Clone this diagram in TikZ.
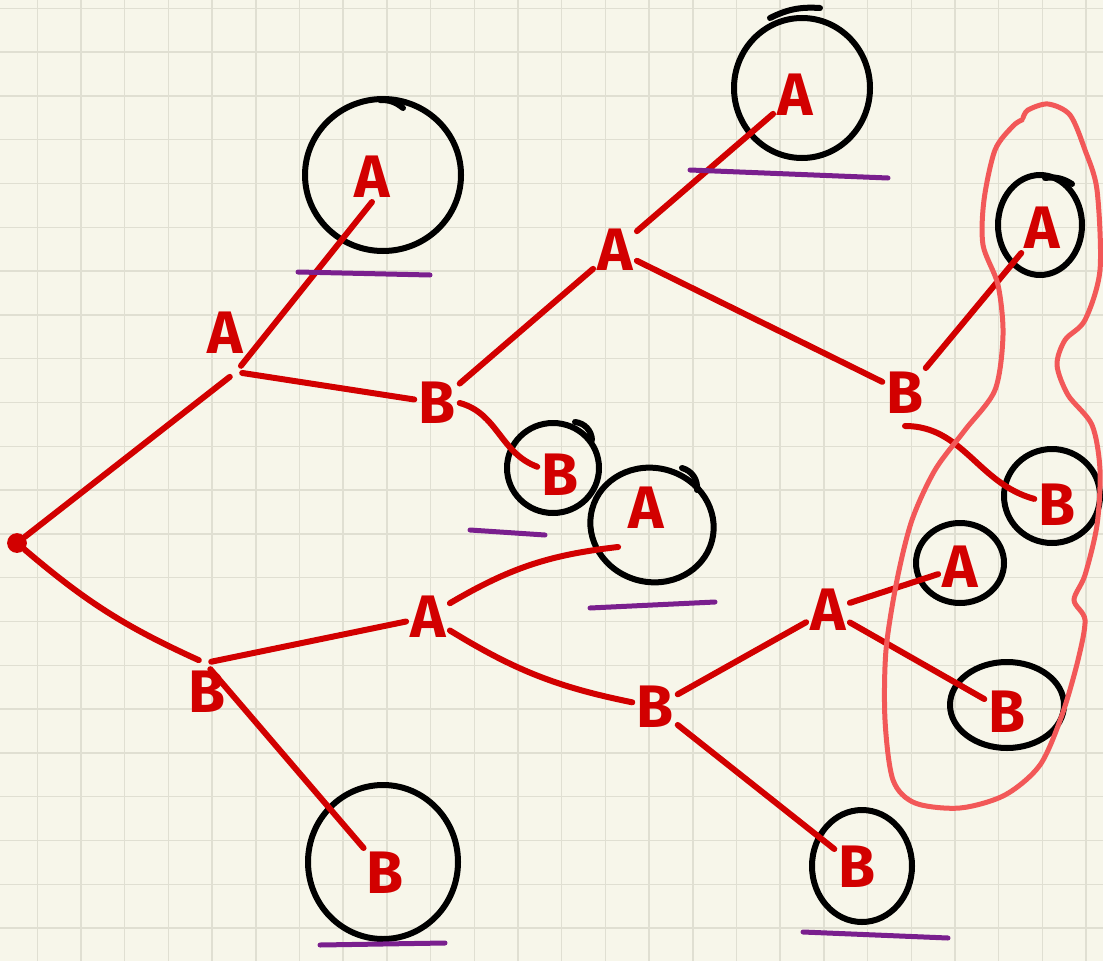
\documentclass[tikz,border=0pt]{standalone}
\usepackage{fontspec}
\setmainfont{Fira Sans}
\usetikzlibrary{shapes.geometric}
\definecolor{paper}{HTML}{F7F6EA}
\definecolor{gridline}{HTML}{E0DFD2}
\definecolor{ink}{HTML}{D20000}
\definecolor{lasso}{HTML}{F25858}
\definecolor{marker}{HTML}{7A1F8E}
\tikzset{
  letter/.style={text=ink, font=\fontsize{60}{60}\selectfont\bfseries, inner sep=4pt},
  junction/.style={inner sep=6pt},
  branch/.style={draw=ink, line width=6pt, line cap=round},
  ring/.style={ellipse, draw=black, line width=6pt, inner sep=0pt},
  pen/.style={draw=black, line width=6pt, line cap=round},
  underline/.style={draw=marker, line width=5pt, line cap=round},
}
\begin{document}
\begin{tikzpicture}[x=1pt,y=-1pt]
  \fill[paper] (0,0) rectangle (1103,961);
  \useasboundingbox (0,0) rectangle (1103,961);
  \foreach \i in {0,...,24}
    \draw[gridline, line width=1.5pt] (37.3+43.7*\i,0) -- (37.3+43.7*\i,961);
  \foreach \j in {0,...,21}
    \draw[gridline, line width=1.5pt] (0,8.3+43.8*\j) -- (1103,8.3+43.8*\j);

  % inner nodes
  \node[circle, fill=ink, inner sep=7pt] (root) at (17,543) {};
  \node[junction] (a1) at (236,372) {};
  \node[letter] (a1t) at (225,333) {A};
  \node[junction] (b1) at (205,663) {};
  \node[letter] (b1t) at (207,692) {B};
  \node[letter] (b2) at (437,403) {B};
  \node[letter] (a3) at (615,250) {A};
  \node[letter] (b4) at (905,393) {B};
  \node[letter] (a5) at (428,617) {A};
  \node[letter] (b6) at (655,707) {B};
  \node[letter] (a7) at (828,610) {A};

  % leaves
  \node[letter] (la1) at (372,177) {A};
  \node[letter] (la3) at (795,95) {A};
  \node[letter] (lb2) at (560,475) {B};
  \node[letter] (la5) at (646,508) {A};
  \node[letter] (la4) at (1042,228) {A};
  \node[letter] (lb4) at (1057,505) {B};
  \node[letter] (la7) at (960,567) {A};
  \node[letter] (lb7) at (1007,712) {B};
  \node[letter] (lb1) at (385,873) {B};
  \node[letter] (lb6) at (857,867) {B};

  % circles round the leaves
  \node[ring, minimum width=156pt, minimum height=152pt] (r1) at (383,175) {};
  \node[ring, minimum width=136pt, minimum height=140pt] (r3) at (802,88) {};
  \node[ring, minimum width=92pt, minimum height=90pt] (r2) at (553,468) {};
  \node[ring, minimum width=124pt, minimum height=114pt, rotate=-15] (r5) at (652,525) {};
  \node[ring, minimum width=84pt, minimum height=100pt] (r4) at (1040,225) {};
  \node[ring, minimum width=96pt, minimum height=94pt] (r6) at (1052,496) {};
  \node[ring, minimum width=88pt, minimum height=80pt] (r7) at (960,563) {};
  \node[ring, minimum width=114pt, minimum height=86pt] (r8) at (1007,705) {};
  \node[ring, minimum width=150pt, minimum height=154pt] (r9) at (383,862) {};
  \node[ring, minimum width=100pt, minimum height=112pt] (r10) at (862,866) {};
  \draw[pen] (380,100) to[bend left=20] (403,108);
  \draw[pen] (770,18) to[bend left=15] (820,8);
  \draw[pen] (575,422) to[bend left=40] (592,440);
  \draw[pen] (682,468) to[bend left=40] (697,490);
  \draw[pen] (1045,178) to[bend left=20] (1072,184);

  % branches
  \draw[branch] (root) -- (a1);
  \draw[branch] (root) to[bend right=8] (b1);
  \draw[branch] (a1) -- (la1.south);
  \draw[branch] (a1) -- (b2);
  \draw[branch] (b2) -- (a3);
  \draw[branch] (b2.east) to[out=-15,in=160] (lb2);
  \draw[branch] (a3) -- (la3);
  \draw[branch] (a3) -- (b4);
  \draw[branch] (b4) -- (la4);
  \draw[branch] ([yshift=-8pt]b4.south) to[out=0,in=165] (lb4);
  \draw[branch] (b1) -- (a5);
  \draw[branch] (b1) -- (lb1);
  \draw[branch] (a5) to[bend left=12] ([xshift=-6pt,yshift=-14pt]la5.south west);
  \draw[branch] (a5) to[bend right=10] (b6);
  \draw[branch] (b6) -- (a7);
  \draw[branch] (b6) -- (lb6);
  \draw[branch] (a7) -- (la7);
  \draw[branch] (a7) -- (lb7);

  % underlines
  \draw[underline] (298,272) -- (430,275);
  \draw[underline] (690,170) -- (888,178);
  \draw[underline] (470,530) -- (545,535);
  \draw[underline] (590,608) -- (715,602);
  \draw[underline] (320,945) -- (445,943);
  \draw[underline] (803,932) -- (948,938);

  % lasso round the right column
  \draw[lasso, line width=5pt, line cap=round] plot[smooth] coordinates {
    (1022,120) (1013,126) (995,150) (984,200) (983,245) (998,285) (1003,335)
    (995,390) (965,430) (935,470) (912,520) (897,580) (886,650) (885,720)
    (893,780) (915,803) (960,808) (1005,795) (1040,765) (1062,715) (1078,660)
    (1085,620) (1074,600) (1085,575) (1097,525) (1100,470) (1092,425)
    (1068,395) (1057,365) (1065,340) (1085,320) (1100,270) (1097,190)
    (1085,150) (1070,115) (1048,104) (1028,110) (1023,118)};
\end{tikzpicture}
\end{document}
